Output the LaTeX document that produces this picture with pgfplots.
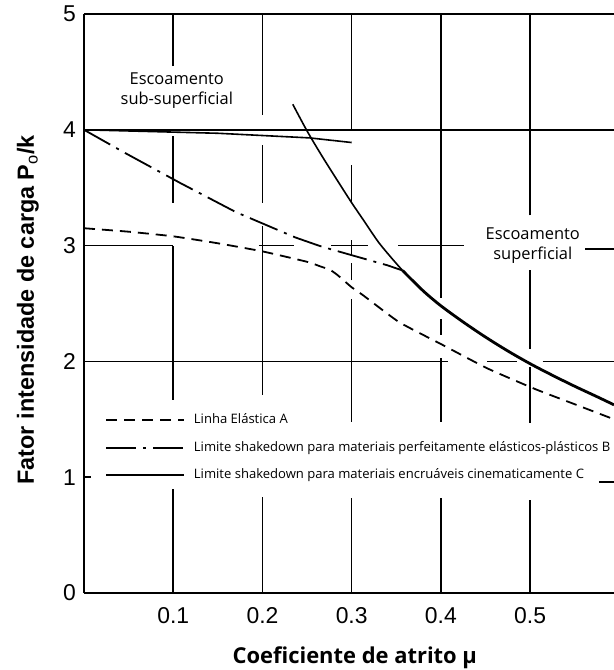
\documentclass[border=0pt]{standalone}
\usepackage{fontspec}
\setmainfont{Liberation Sans}
\newfontfamily\opensans{Open Sans}
\usepackage{pgfplots}
\pgfplotsset{compat=1.18}
\begin{document}
\begin{tikzpicture}
\useasboundingbox (-84bp,-77bp) rectangle (530bp,593bp);
\begin{axis}[
  at={(0,0)}, anchor=south west,
  scale only axis, width=530bp, height=579bp,
  xmin=0, xmax=0.594, ymin=0, ymax=5,
  enlargelimits=false, clip=false,
  axis x line=bottom, axis y line=left,
  axis line style={-, line width=1.7bp, black},
  xtick={0.1,0.2,0.3,0.4,0.5}, xticklabels={0.1,0.2,0.3,0.4,0.5},
  ytick={0,1,2,3,4,5}, yticklabels={0,1,2,3,4,5},
  major tick length=0pt,
  /pgf/number format/assume math mode=true,
  ticklabel style={font=\fontsize{23}{26}\selectfont, inner sep=0pt},
  xticklabel style={anchor=north, yshift=-14bp},
  yticklabel style={anchor=east, xshift=-8bp},
  xlabel={\opensans\bfseries Coeficiente de atrito μ},
  xlabel style={at={(axis description cs:0.511,-0.112)}, anchor=center, font=\fontsize{22}{26}\selectfont},
  ylabel={\bfseries Fator intensidade de carga P$_{\mathrm{o}}$/k},
  ylabel style={at={(axis description cs:-0.1057,0.489)}, anchor=center, rotate=0, font=\fontsize{23.5}{26}\selectfont},
  legend style={at={(axis cs:0.0235,1.55)}, anchor=north west, draw=none, fill=none,
    inner sep=0pt, font=\opensans\fontsize{13.1}{15}\selectfont, row sep=14.5bp,
    nodes={inner sep=0pt, text height=10bp, text depth=3bp},
    /tikz/every odd column/.style={column sep=9bp}},
  legend cell align=left,
  legend image code/.code={\draw[#1] (0bp,0bp) -- (78bp,0bp);},
  grd/.style={black, line width=1.5bp, forget plot},
]
% A: Linha elastica
\addplot[black, line width=1.8bp, dash pattern=on 11bp off 7bp, smooth, tension=0.3] coordinates {
(0,3.15)(0.05,3.12)(0.1,3.08)(0.15,3.02)(0.2,2.95)(0.25,2.86)(0.265,2.82)(0.276,2.79)(0.285,2.74)(0.30,2.64)(0.313,2.57)(0.353,2.34)(0.40,2.15)(0.452,1.94)(0.506,1.76)(0.55,1.63)(0.594,1.50)};
\addlegendentry{Linha Elástica A}
% B: shakedown perfeitamente elasto-plastico
\addplot[black, line width=1.8bp, dash pattern=on 30bp off 7bp on 3bp off 7bp] coordinates {
(0,4.0)(0.046,3.8)(0.108,3.54)(0.17,3.29)(0.237,3.07)(0.263,3.0)(0.276,2.97)(0.317,2.88)(0.34,2.83)(0.357,2.785)};
\addlegendentry{Limite shakedown para materiais perfeitamente elásticos-plásticos B}
% C: shakedown encruamento cinematico
\addplot[black, line width=1.6bp] coordinates {
(0,4.0)(0.15,3.97)(0.253,3.93)(0.30,3.89)};
\addlegendentry{Limite shakedown para materiais encruáveis cinematicamente C}
\addplot[black, line width=1.6bp, forget plot, smooth, tension=0.5] coordinates {
(0.234,4.22)(0.25,3.99)(0.267,3.77)(0.285,3.55)(0.30,3.37)(0.315,3.20)(0.330,3.03)(0.345,2.89)(0.357,2.785)};
\addplot[black, line width=2.8bp, forget plot, smooth, tension=0.5] coordinates {
(0.357,2.785)(0.38,2.61)(0.40,2.48)(0.425,2.34)(0.45,2.21)(0.475,2.09)(0.50,1.98)(0.525,1.88)(0.55,1.785)(0.575,1.695)(0.594,1.625)};
% grid fragments (horizontal)
\addplot[grd] coordinates {(0,5)(0.594,5)};
\addplot[grd] coordinates {(0,4)(0.594,4)};
\addplot[grd] coordinates {(0,3)(0.1,3)};
\addplot[grd] coordinates {(0.196,3)(0.235,3)};
\addplot[grd] coordinates {(0.277,3)(0.318,3)};
\addplot[grd] coordinates {(0.352,3)(0.426,3)};
\addplot[grd] coordinates {(0.562,2.97)(0.594,2.97)};
\addplot[grd] coordinates {(0,2)(0.408,2)};
\addplot[grd] coordinates {(0.452,2)(0.485,2)};
\addplot[grd] coordinates {(0.514,2)(0.594,2)};
\addplot[grd] coordinates {(0.577,0.96)(0.594,0.96)};
\addplot[grd] coordinates {(0,1)(0.008,1)};
% grid fragments (vertical)
\addplot[grd] coordinates {(0.1,4.55)(0.1,5)};
\addplot[grd] coordinates {(0.1,3.37)(0.1,3.95)};
\addplot[grd] coordinates {(0.1,1.67)(0.1,3)};
\addplot[grd] coordinates {(0.1,0)(0.1,0.9)};
\addplot[grd] coordinates {(0.2,4.13)(0.2,5)};
\addplot[grd] coordinates {(0.2,3.37)(0.2,3.87)};
\addplot[grd] coordinates {(0.2,1.71)(0.2,3.17)};
\addplot[grd] coordinates {(0.2,0)(0.2,0.83)};
\addplot[grd] coordinates {(0.3,4)(0.3,5)};
\addplot[grd] coordinates {(0.3,3.37)(0.3,3.7)};
\addplot[grd] coordinates {(0.3,2.92)(0.3,3.05)};
\addplot[grd] coordinates {(0.3,2.7)(0.3,2.85)};
\addplot[grd] coordinates {(0.3,1.48)(0.3,2.54)};
\addplot[grd] coordinates {(0.3,0)(0.3,0.82)};
\addplot[grd] coordinates {(0.4,2.55)(0.4,5)};
\addplot[grd] coordinates {(0.4,2.23)(0.4,2.37)};
\addplot[grd] coordinates {(0.4,1.48)(0.4,2.03)};
\addplot[grd] coordinates {(0.4,0)(0.4,0.82)};
\addplot[grd] coordinates {(0.5,3.26)(0.5,5)};
\addplot[grd] coordinates {(0.5,2.11)(0.5,2.79)};
\addplot[grd] coordinates {(0.5,1.47)(0.5,1.95)};
\addplot[grd] coordinates {(0.5,0)(0.5,0.8)};
% region labels
\node[font=\opensans\fontsize{16.5}{20}\selectfont, align=center] at (axis cs:0.104,4.34) {Escoamento\\sub-superficial};
\node[font=\opensans\fontsize{16.5}{20}\selectfont, align=center, fill=white, inner sep=1bp] at (axis cs:0.503,3.0) {Escoamento\\superficial};
\end{axis}
\end{tikzpicture}
\end{document}
